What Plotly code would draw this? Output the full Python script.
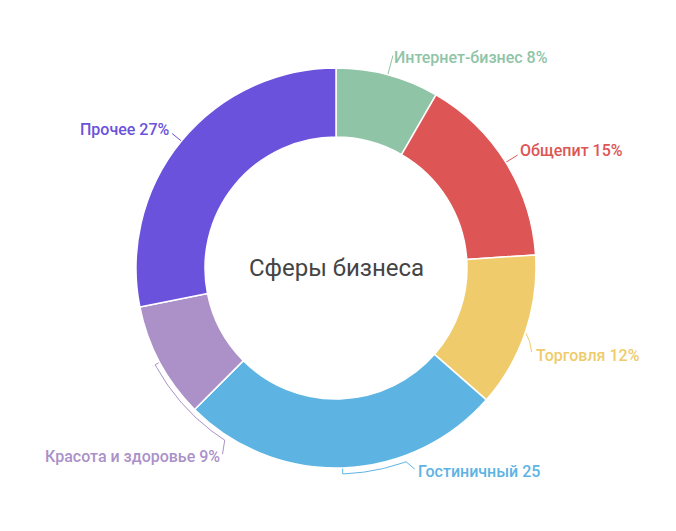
import numpy as np
import plotly.graph_objects as go

# data
sectors = ["Интернет-бизнес", "Общепит", "Торговля", "Гостиничный", "Красота и здоровье", "Прочее"]
shares = [8, 15, 12, 25, 9, 27]
label_texts = ["Интернет-бизнес 8%", "Общепит 15%", "Торговля 12%", "Гостиничный 25",
               "Красота и здоровье 9%", "Прочее 27%"]
colors = ["#8fc4a7", "#dd5555", "#efcb6b", "#5db4e3", "#ab91c8", "#6b52dc"]
center_title = "Сферы бизнеса"

W, H = 676, 531
cx, cy, R = 336, 268, 200
hole = 0.655

# slice angles (clockwise from 12 o'clock), from the values
tot = sum(shares)
ends = np.cumsum(shares) / tot * 360
starts = ends - np.array(shares) / tot * 360
mids = (starts + ends) / 2

def pt(a, r):
    t = np.radians(a)
    return cx + r * np.sin(t), cy - r * np.cos(t)

def arc(a0, a1, r, n=30):
    return [pt(a, r) for a in np.linspace(a0, a1, n)]

# leader paths built from the slice mid angles
leaders = [
    [pt(mids[0], R), pt(mids[0], R + 20)],
    [pt(mids[1], R), pt(mids[1], R + 14)],
    [pt(mids[2], R), pt(mids[2] + 2, R + 7), pt(mids[2] + 4.5, R + 13)],
    [pt(mids[3], R)] + arc(mids[3], mids[3] - 18, R + 6) + [pt(mids[3] - 19.5, R + 16)],
    [pt(mids[4], R)] + arc(mids[4], mids[4] - 29, R + 5) + [pt(mids[4] - 30.5, R + 18)],
    [pt(mids[5], R), pt(mids[5], R + 12)],
]
# label anchor + offset from the leader end
label_pos = [("left", -1, 2), ("left", 0, -4), ("left", 2, 3), ("left", 1, 2),
             ("right", -1, 2), ("right", 0, -4)]

fig = go.Figure()

fig.add_trace(go.Pie(
    labels=sectors, values=shares, sort=False, direction="clockwise", rotation=0,
    hole=hole, textinfo="none", showlegend=False,
    marker=dict(colors=colors, line=dict(color="white", width=1.5)),
    domain=dict(x=[(cx - R) / W, (cx + R) / W], y=[(H - cy - R) / H, (H - cy + R) / H]),
    hovertemplate="%{label}: %{value}<extra></extra>",
))

for i, path in enumerate(leaders):
    xs = [p[0] for p in path]
    ys = [p[1] for p in path]
    fig.add_trace(go.Scatter(x=xs, y=ys, mode="lines", showlegend=False, hoverinfo="skip",
                             line=dict(color=colors[i], width=1)))
    anchor, dx, dy = label_pos[i]
    fig.add_annotation(x=xs[-1] + dx, y=ys[-1] + dy, text=label_texts[i], showarrow=False,
                       xanchor=anchor, yanchor="middle",
                       font=dict(family="Roboto", size=16, weight=500, color=colors[i]))

fig.add_annotation(x=cx, y=cy, text=center_title, showarrow=False,
                   font=dict(family="Roboto", size=24, color="#444444"))

fig.update_layout(
    width=W, height=H,
    margin=dict(l=0, r=0, t=0, b=0),
    paper_bgcolor="white", plot_bgcolor="rgba(0,0,0,0)",
    xaxis=dict(range=[0, W], visible=False, fixedrange=True),
    yaxis=dict(range=[H, 0], visible=False, fixedrange=True),
)

fig.write_html("out.html", config={"displayModeBar": False},
               post_script="document.body.style.margin='0';")
